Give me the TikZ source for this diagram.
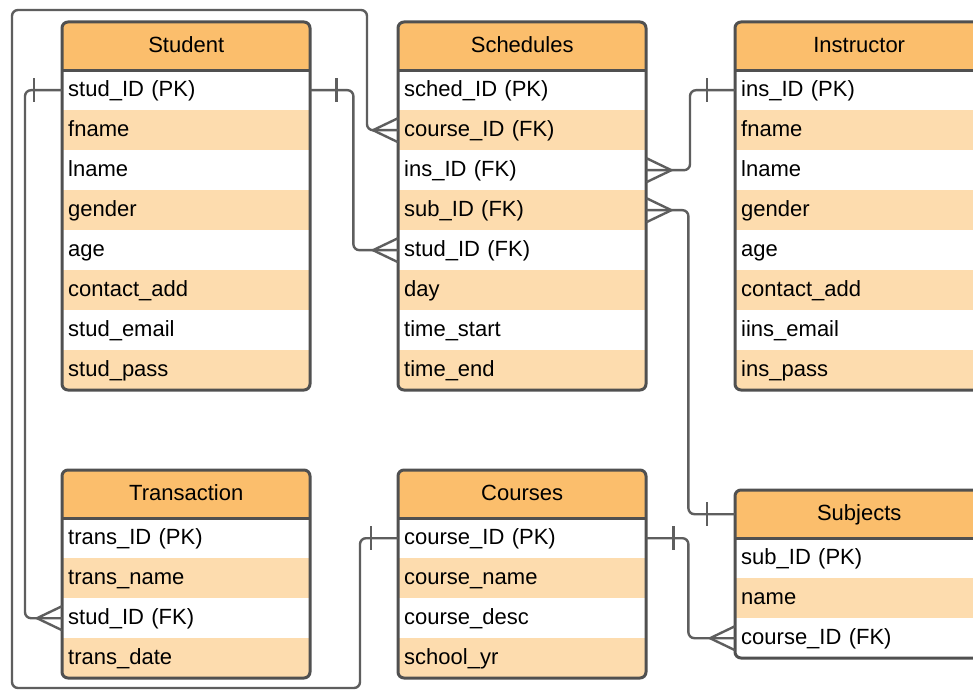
\documentclass[tikz,border=0pt]{standalone}
\usepackage{fontspec}
\setmainfont{Liberation Sans}
\usetikzlibrary{calc}
\definecolor{hdrorange}{HTML}{FBBE6C}
\definecolor{rowtan}{HTML}{FDDCAE}
\definecolor{edgegray}{HTML}{505050}
\definecolor{linegray}{HTML}{5E5E5E}
\tikzset{
  hdrbox/.style={fill=hdrorange, inner sep=0pt, minimum height=48pt,
    text height=16pt, text depth=3pt, font=\fontsize{22}{26}\selectfont},
  rowbox/.style={inner ysep=0pt, inner xsep=6pt, minimum height=40pt,
    text height=16pt, text depth=3pt, align=left, font=\fontsize{22}{26}\selectfont},
  tblborder/.style={draw=edgegray, line width=3pt, rounded corners=6pt},
  conn/.style={draw=linegray, line width=2.4pt, rounded corners=6pt},
  tick/.style={draw=linegray, line width=2.4pt},
}
% #1 name, #2 x left, #3 x right, #4 y top, #5 y bottom, #6 title, #7 rows
\newcommand\ertable[7]{%
  \pgfmathsetmacro\tw{#3-#2}%
  \pgfmathsetmacro\txw{#3-#2-12}%
  \begin{scope}
    \clip[rounded corners=6pt] (#2,#4) rectangle (#3,#5);
    \node[hdrbox, minimum width=\tw pt, anchor=north west] (#1-h) at (#2,#4) {#6};
    \foreach \t [count=\i] in {#7} {
      \pgfmathsetmacro\yy{#4+48+40*(\i-1)}
      \pgfmathtruncatemacro\parity{mod(\i,2)}
      \ifnum\parity=1 \def\rf{white}\else \def\rf{rowtan}\fi
      \node[rowbox, fill=\rf, text width=\txw pt, anchor=north west] (#1-\i) at (#2,\yy) {\t};
    }
  \end{scope}
  \draw[draw=edgegray, line width=3pt] (#1-h.south west) -- (#1-h.south east);
  \draw[tblborder] (#2,#4) rectangle (#3,#5);
}
% crow's foot at an anchor, opening to the west / east side
\newcommand\crowW[1]{\draw[tick] ($(#1)+(0,-12)$) -- ($(#1)+(-25,0)$) -- ($(#1)+(0,12)$);}
\newcommand\crowE[1]{\draw[tick] ($(#1)+(0,-12)$) -- ($(#1)+(25,0)$) -- ($(#1)+(0,12)$);}
% bar at distance #2 from an anchor
\newcommand\barW[2]{\draw[tick] ($(#1)+(-#2,-12)$) -- ($(#1)+(-#2,12)$);}
\newcommand\barE[2]{\draw[tick] ($(#1)+(#2,-12)$) -- ($(#1)+(#2,12)$);}
\begin{document}
\begin{tikzpicture}[x=1pt,y=-1pt]
\useasboundingbox (0,0) rectangle (973,692);
\fill[white] (0,0) rectangle (973,692);

\coordinate (loopBL) at (12,688);
\coordinate (loopTR) at (367,10);

\ertable{stu}{62}{310}{22}{390}{Student}{stud\_ID (PK),fname,lname,gender,age,contact\_add,stud\_email,stud\_pass}
\ertable{sch}{398}{646}{22}{390}{Schedules}{sched\_ID (PK),course\_ID (FK),ins\_ID (FK),sub\_ID (FK),stud\_ID (FK),day,time\_start,time\_end}
\ertable{ins}{735}{983}{22}{390}{Instructor}{ins\_ID (PK),fname,lname,gender,age,contact\_add,iins\_email,ins\_pass}
\ertable{trn}{62}{310}{470}{678}{Transaction}{trans\_ID (PK),trans\_name,stud\_ID (FK),trans\_date}
\ertable{crs}{398}{646}{470}{678}{Courses}{course\_ID (PK),course\_name,course\_desc,school\_yr}
\ertable{sub}{735}{983}{490}{658}{Subjects}{sub\_ID (PK),name,course\_ID (FK)}

% Student -> Transaction
\draw[conn] (stu-1.west) -- ++(-37,0) |- (trn-3.west);
\barW{stu-1.west}{28}
\crowW{trn-3.west}
% Student -> Schedules
\draw[conn] (stu-1.east) -- ++(43,0) |- (sch-5.west);
\barE{stu-1.east}{26}
\crowW{sch-5.west}
% Courses -> Schedules (outer loop)
\draw[conn] (crs-1.west) -- ++(-38,0) |- (loopBL) |- (loopTR) |- (sch-2.west);
\barW{crs-1.west}{27}
\crowW{sch-2.west}
% Instructor -> Schedules
\draw[conn] (ins-1.west) -- ++(-45,0) |- (sch-3.east);
\barW{ins-1.west}{28}
\crowE{sch-3.east}
% Schedules -> Subjects
\draw[conn] (sch-4.east) -- ++(42,0) |- (sub-h.west);
\crowE{sch-4.east}
\barW{sub-h.west}{28}
% Courses -> Subjects
\draw[conn] (crs-1.east) -- ++(42,0) |- (sub-3.west);
\barE{crs-1.east}{27}
\crowW{sub-3.west}
\end{tikzpicture}
\end{document}
